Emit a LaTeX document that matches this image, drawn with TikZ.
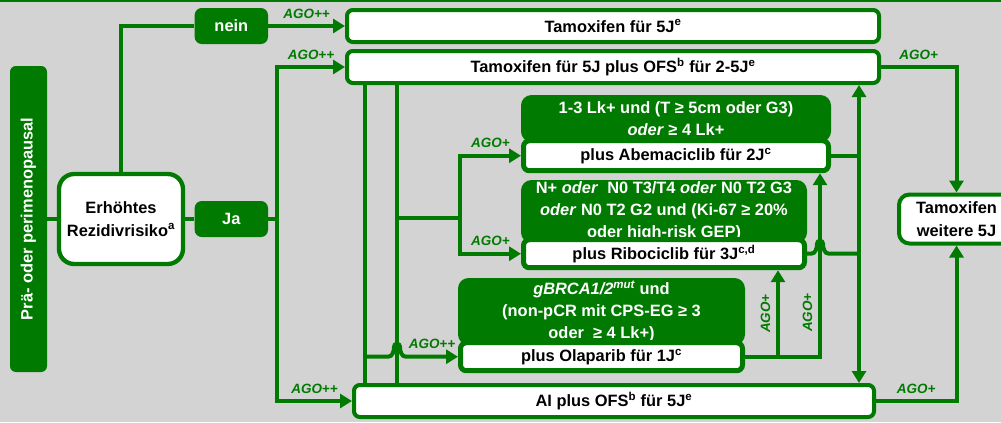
\documentclass[tikz,border=0pt]{standalone}
\usepackage{fontspec}
\setmainfont{Liberation Sans}
\usetikzlibrary{arrows.meta,positioning,calc}
\definecolor{agogreen}{RGB}{0,122,0}
\definecolor{bggray}{RGB}{211,211,211}

\begin{document}
\begin{tikzpicture}[font=\bfseries\fontsize{14}{19}\selectfont, wbox/.style={rectangle, rounded corners=5pt, draw=agogreen, line width=0.12cm, fill=white, align=center, inner sep=0pt}, gbox/.style={rectangle, rounded corners=6pt, fill=agogreen, text=white, align=center, inner sep=0pt}, hdr/.style={gbox, rounded corners=9pt}, inbox/.style={wbox, line width=0.15cm}, conn/.style={draw=agogreen, line width=0.12cm}, arr/.style={conn, -{Triangle[length=0.36cm, width=0.42cm]}}, arrr/.style={conn, {Triangle[length=0.36cm, width=0.42cm]}-{Triangle[length=0.36cm, width=0.42cm]}}, ago/.style={font=\bfseries\itshape\fontsize{11.5}{13}\selectfont, text=agogreen, inner sep=1pt, above=4pt}]
\fill[bggray] (0,0) rectangle (30.03,-12.66);
\useasboundingbox (0,0) rectangle (30.03,-12.66);
\fill[agogreen] (0,0) rectangle (30.03,-0.05);
\node[gbox, rotate=90, minimum width=9.18cm, minimum height=1.11cm, rounded corners=5pt] (bar) at (0.855,-6.57) {Prä- oder perimenopausal};
\node[wbox, minimum width=3.72cm, minimum height=2.7cm, rounded corners=13pt, line width=0.13cm] (erh) at (3.63,-6.57) {Erhöhtes\\ Rezidivrisiko\textsuperscript{a}};
\node[gbox, minimum width=2.2cm, minimum height=1.08cm] (nein) at (6.94,-0.78) {nein};
\node[gbox, minimum width=2.2cm, minimum height=1.08cm] (ja) at (6.94,-6.57) {Ja};
\node[wbox, minimum width=15.96cm, minimum height=0.96cm] (tam5) at (18.39,-0.78) {Tamoxifen für 5J\textsuperscript{e}};
\node[wbox, minimum width=15.96cm, minimum height=0.96cm, below=0.15cm of tam5] (tamofs) {Tamoxifen für 5J plus OFS\textsuperscript{b} für 2-5J\textsuperscript{e}};
\node[wbox, minimum width=15.6cm, minimum height=0.96cm] (ai) at (18.42,-12.03) {AI plus OFS\textsuperscript{b} für 5J\textsuperscript{e}};
\node[wbox, minimum width=3.45cm, minimum height=1.47cm, rounded corners=9pt] (weit) at (28.695,-6.57) {Tamoxifen\\ weitere 5J};
\node[hdr, minimum width=9.3cm, minimum height=1.41cm] (abehdr) at (20.28,-3.555) {1-3 Lk+ und (T ≥ 5cm oder G3)\\ \textit{oder} ≥ 4 Lk+};
\node[inbox, minimum width=9.15cm, minimum height=0.9cm, below=-0.12cm of abehdr] (abe) {plus Abemaciclib für 2J\textsuperscript{c}};
\node[hdr, minimum width=8.58cm, minimum height=1.89cm] (ribhdr) at (19.92,-6.345) {N+ \textit{oder}\ \ N0 T3/T4 \textit{oder} N0 T2 G3\\ \textit{oder} N0 T2 G2 und (Ki-67 ≥ 20\%\\ oder high-risk GEP)};
\node[inbox, minimum width=8.43cm, minimum height=0.84cm, below=-0.18cm of ribhdr] (rib) {plus Ribociclib für 3J\textsuperscript{c,d}};
\node[hdr, minimum width=8.61cm, minimum height=2.01cm] (olahdr) at (18.045,-9.345) {\textit{gBRCA1/2\textsuperscript{mut}} und\\ (non-pCR mit CPS-EG ≥ 3\\ oder\ \ ≥ 4 Lk+)};
\node[inbox, minimum width=8.46cm, minimum height=0.84cm, below=-0.15cm of olahdr] (ola) {plus Olaparib für 1J\textsuperscript{c}};
\coordinate (jn) at (8.31,-6.57);
\coordinate (va) at (10.95,0);
\coordinate (vb) at (11.91,0);
\coordinate (rb) at (13.8,-6.54);
\coordinate (vd) at (23.34,0);
\coordinate (ve) at (24.6,0);
\coordinate (vf) at (25.77,0);
\draw[conn] (bar.south) -- (erh.west);
\draw[conn] (erh.north) |- (nein.west);
\draw[arr] (nein.east) -- node[ago]{AGO++} (tam5.west);
\draw[conn] (erh.east) -- (ja.west);
\draw[arr] (ja.east) -- (jn) |- node[ago, pos=0.75]{AGO++} (tamofs.west);
\draw[arr] (jn) |- node[ago, pos=0.75]{AGO++} (ai.west);
\draw[conn] (tamofs.south -| va) -- (ai.north -| va);
\draw[conn] (tamofs.south -| vb) -- (ai.north -| vb);
\draw[conn] (rb -| vb) -- (rb);
\draw[arr] (rb) |- node[ago, pos=0.75]{AGO+} (abe.west);
\draw[arr] (rb) |- node[ago, pos=0.75]{AGO+} (rib.west);
\draw[arr] (ola.west -| va) -- ($(ola.west -| vb)+(-0.27,0)$) to[out=0, in=-90] ++(0.18,0.3) arc[start angle=180, end angle=0, radius=0.09] to[out=-90, in=180] ++(0.18,-0.3) -- node[ago]{AGO++} (ola.west);
\draw[arr] (ola.east) -| node[ago, sloped, pos=0.62]{AGO+} (abe.south -| ve);
\draw[arr] (ola.east -| vd) -- node[ago, sloped]{AGO+} (rib.south -| vd);
\draw[conn] (abe.east) -- (abe.east -| vf);
\draw[conn] (rib.east) -- ($(rib.east -| ve)+(-0.27,0)$) to[out=0, in=-90] ++(0.18,0.3) arc[start angle=180, end angle=0, radius=0.09] to[out=-90, in=180] ++(0.18,-0.3) -- (rib.east -| vf);
\draw[arrr] (tamofs.south -| vf) -- (ai.north -| vf);
\draw[arr] (tamofs.east) -| node[ago, pos=0.25]{AGO+} (weit.north);
\draw[arr] (ai.east) -| node[ago, pos=0.25]{AGO+} (weit.south);
\end{tikzpicture}
\end{document}
